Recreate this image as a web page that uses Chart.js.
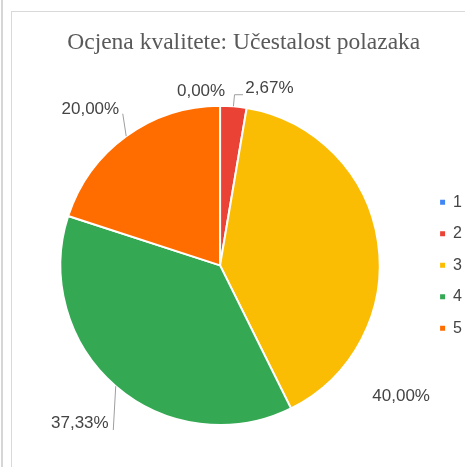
<!DOCTYPE html>
<html>
<head>
<meta charset="utf-8">
<script src="https://cdn.jsdelivr.net/npm/chart.js@4"></script>
<style>
    html, body { margin: 0; padding: 0; background: #fff; overflow: hidden; }
    body { width: 465px; height: 467px; position: relative; }
    .strip { position: absolute; left: 1px; top: 0; width: 2px; height: 467px; background: #d6d6d6; }
    .card { position: absolute; left: 11px; top: 11px; width: 470px; height: 470px; border-left: 1px solid #d9d9d9; border-top: 1px solid #d9d9d9; }
    #qualityChart { position: absolute; left: 12px; top: 12px; }
</style>
</head>
<body>
<div class="strip"></div>
<div class="card"></div>
<canvas id="qualityChart" width="460" height="455"></canvas>
<script>
// Data
const titleText = 'Ocjena kvalitete: Učestalost polazaka';
const categories = ['1', '2', '3', '4', '5'];
const shares = [0, 2.67, 40, 37.33, 20];
const sliceColors = ['#4285f4', '#ea4335', '#fbbc04', '#34a853', '#ff6d01'];

// where each percentage label sits, relative to the pie centre (px at r = 160)
const labelSpots = [
    { at: [-19, -174] },
    { at: [49.5, -177.5], line: [[14.5, -171], [23, -171]] },
    { at: [181.5, 131.5] },
    { at: [-140.5, 158.5], line: [[-107, 165]] },
    { at: [-130, -156.5], line: [[-97.5, -152]] }
];

function formatShare(v) {
    return v.toFixed(2).replace('.', ',') + '%';
}

const sliceLabels = {
    id: 'sliceLabels',
    afterDatasetsDraw(chart) {
        const ctx = chart.ctx;
        const arcs = chart.getDatasetMeta(0).data;
        ctx.save();
        ctx.font = '17px "Liberation Sans", Arial, sans-serif';
        ctx.textAlign = 'center';
        ctx.textBaseline = 'middle';
        arcs.forEach(function(arc, i) {
            const p = arc.getProps(['x', 'y', 'startAngle', 'endAngle', 'outerRadius'], true);
            const k = p.outerRadius / 160;
            const spot = labelSpots[i];
            if (spot.line) {
                const mid = (p.startAngle + p.endAngle) / 2;
                ctx.strokeStyle = '#9e9e9e';
                ctx.lineWidth = 1;
                ctx.beginPath();
                ctx.moveTo(p.x + p.outerRadius * Math.cos(mid), p.y + p.outerRadius * Math.sin(mid));
                spot.line.forEach(function(pt) {
                    ctx.lineTo(p.x + pt[0] * k, p.y + pt[1] * k);
                });
                ctx.stroke();
            }
            ctx.fillStyle = '#444';
            ctx.fillText(formatShare(shares[i]), p.x + spot.at[0] * k, p.y + spot.at[1] * k);
        });
        ctx.restore();
    }
};

const ctx = document.getElementById('qualityChart').getContext('2d');
new Chart(ctx, {
    type: 'pie',
    data: {
        labels: categories,
        datasets: [{
            data: shares,
            backgroundColor: sliceColors,
            borderColor: '#ffffff',
            borderWidth: 2
        }]
    },
    options: {
        responsive: false,
        animation: false,
        layout: {
            padding: { left: 3.5, right: 0, top: 0, bottom: 41 }
        },
        plugins: {
            title: {
                display: true,
                text: titleText,
                color: '#595959',
                font: { family: '"Liberation Serif", "Times New Roman", serif', size: 23.5, weight: 'normal' },
                padding: { top: 17, bottom: 47.5 }
            },
            legend: {
                position: 'right',
                fullSize: false,
                labels: {
                    boxWidth: 5,
                    boxHeight: 5,
                    padding: 15.5,
                    color: '#444',
                    font: { family: '"Liberation Sans", Arial, sans-serif', size: 16 },
                    generateLabels: function(chart) {
                        return Chart.overrides.pie.plugins.legend.labels.generateLabels(chart).map(function(item) {
                            item.lineWidth = 0;
                            return item;
                        });
                    }
                }
            },
            tooltip: { enabled: false }
        }
    },
    plugins: [sliceLabels]
});
</script>
</body>
</html>
